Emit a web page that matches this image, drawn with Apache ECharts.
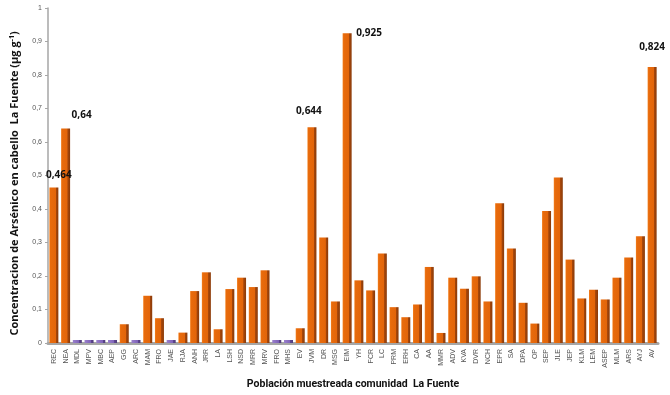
<!DOCTYPE html>
<html><head><meta charset="utf-8">
<script src="https://cdn.jsdelivr.net/npm/echarts@6/dist/echarts.min.js"></script>
<style>html,body{margin:0;padding:0;background:#fff}#c{width:670px;height:395px}</style>
</head><body><div id="c"></div>
<script>
const categories = ['REC','NEA','MDL','MPV','MBC','AEP','GG','ARC','MAM','FRO','JAE','RJA','ANH','JRR','LA','LSH','NSD','MRR','MRV','FRO','MHS','EV','JVM','DR','MSG','EIM','YH','FCR','LC','PRM','ERH','CA','AA','MMR','ADV','KVA','DVR','NCH','EPR','SA','DPA','OP','SEP','JLE','JEP','KLM','LEM','ASEP','MLM','ARS','AYJ','AV'];
const values = [0.464,0.64,0.009,0.009,0.009,0.009,0.056,0.009,0.141,0.074,0.009,0.031,0.155,0.211,0.041,0.161,0.195,0.167,0.217,0.009,0.009,0.044,0.644,0.315,0.124,0.925,0.187,0.157,0.267,0.107,0.077,0.115,0.227,0.03,0.195,0.162,0.199,0.124,0.417,0.282,0.12,0.058,0.394,0.494,0.249,0.133,0.159,0.13,0.195,0.255,0.319,0.824];
const yTicks = ['0','0,1','0,2','0,3','0,4','0,5','0,6','0,7','0,8','0,9','1'];
const labelled = {0:[5,-2],1:[16,-3],22:[-3,-6],25:[22,10],51:[0,-10]};

const orange = {type:'linear',x:0,y:0,x2:1,y2:0,colorStops:[
  {offset:0,color:'#F58220'},{offset:0.12,color:'#E86B0C'},{offset:0.7,color:'#E2650A'},
  {offset:0.72,color:'#A9480B'},{offset:1,color:'#8A3A08'}]};
const purple = {type:'linear',x:0,y:0,x2:1,y2:0,colorStops:[
  {offset:0,color:'#9A80CC'},{offset:0.7,color:'#7E62B8'},{offset:0.72,color:'#5E4690'},{offset:1,color:'#4E3A7A'}]};

const data = values.map((v,i)=>{
  const d = {value:v, itemStyle:{color: v<=0.01?purple:orange}};
  if (labelled[i]) {
    d.label = {show:true, position:'top', offset:labelled[i], fontWeight:'bold', fontSize:10,
      color:'#111', fontFamily:'Open Sans',
      formatter: p => String(p.value).replace('.',',')};
  }
  return d;
});

const chart = echarts.init(document.getElementById('c'));
chart.setOption({
  animation:false,
  grid:{left:47,right:12,top:8,bottom:52},
  xAxis:{type:'category',data:categories,
    axisLine:{lineStyle:{color:'#A6A6A6',width:3}},
    axisTick:{show:false},
    axisLabel:{rotate:90,fontSize:7,color:'#555',interval:0,margin:6,fontFamily:'Liberation Sans'},
    name:'Población muestreada comunidad  La Fuente',nameLocation:'middle',nameGap:36,
    nameTextStyle:{fontSize:10.5,fontWeight:'bold',color:'#111',fontFamily:'Roboto'}},
  yAxis:{type:'value',min:0,max:1,interval:0.1,
    axisLine:{show:true,lineStyle:{color:'#A6A6A6',width:1.5}},
    axisTick:{show:true,length:3,lineStyle:{color:'#A6A6A6'}},
    splitLine:{show:false},
    axisLabel:{fontSize:7,color:'#555',fontFamily:'Liberation Sans',margin:6,
      formatter:(v)=>yTicks[Math.round(v*10)]},
    name:'{a|Concentracion de Arsénico en cabello  La Fuente (µg g}{s|-1}{a|)}',
    nameLocation:'middle',nameGap:27,
    nameTextStyle:{padding:[0,16,0,0],rich:{a:{fontSize:11,fontWeight:'bold',color:'#111',fontFamily:'Open Sans'},
      s:{fontSize:7,fontWeight:'bold',color:'#111',fontFamily:'Open Sans',verticalAlign:'top',padding:[0,0,6,0]}}}},
  series:[{type:'bar',data:data,barWidth:9}]
});
</script></body></html>
